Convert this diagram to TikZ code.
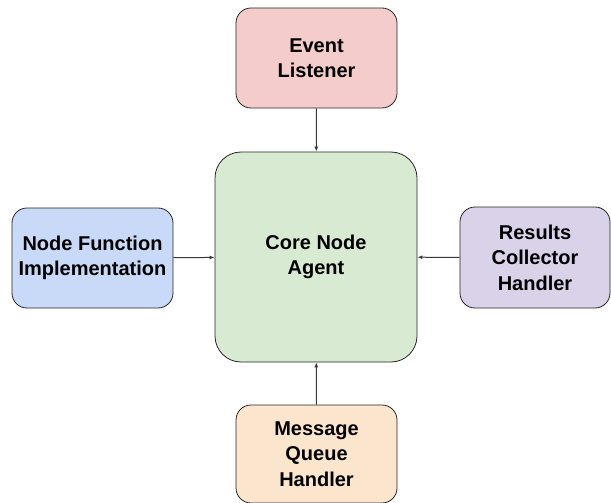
\documentclass[tikz,border=0pt]{standalone}
\usepackage{fontspec}
\setmainfont{Liberation Sans}
\usetikzlibrary{arrows.meta}
\definecolor{pinkfill}{HTML}{F4CCCC}
\definecolor{greenfill}{HTML}{D9EAD3}
\definecolor{bluefill}{HTML}{C9DAF8}
\definecolor{purplefill}{HTML}{D9D2E9}
\definecolor{orangefill}{HTML}{FCE5CD}
\definecolor{edgegray}{HTML}{3A3A3A}
\tikzset{
  part/.style={draw=black!85,line width=0.8pt,rounded corners=15pt,align=center,
    font=\fontsize{20}{25.5}\selectfont\bfseries,inner sep=0pt},
  feed/.style={draw=edgegray,line width=1pt,-{Latex[length=5pt,width=4pt]}}
}
\begin{document}
\begin{tikzpicture}[x=1pt,y=-1pt]
\useasboundingbox (0,0) rectangle (611,503);
%\draw[step=50,lightgray,very thin] (0,0) grid (611,503);

\node[part,fill=greenfill,rounded corners=26pt,minimum width=202pt,minimum height=210pt] (core) at (316,257) {Core Node\\Agent};

\node[part,fill=pinkfill,minimum width=161pt,minimum height=100pt] (event) at (316.5,58) {Event\\Listener};
\node[part,fill=bluefill,minimum width=161pt,minimum height=100pt] (impl) at (92.5,258) {Node Function\\Implementation};
\node[part,fill=purplefill,minimum width=150pt,minimum height=101pt] (results) at (535,257.5) {Results\\Collector\\Handler};
\node[part,fill=orangefill,minimum width=161pt,minimum height=98pt] (queue) at (316.5,454) {Message\\Queue\\Handler};

\draw[feed] (event) -- (core);
\draw[feed] (impl) -- (core);
\draw[feed] (results) -- (core);
\draw[feed] (queue) -- (core);

\end{tikzpicture}
\end{document}
